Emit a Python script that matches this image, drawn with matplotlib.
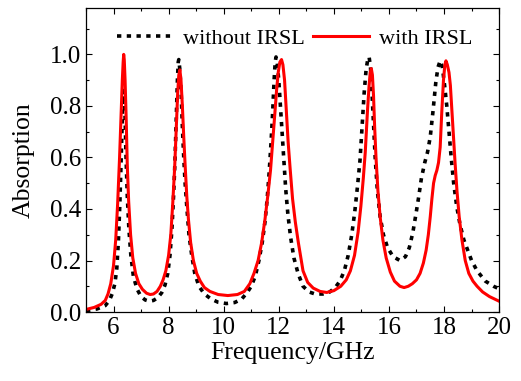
import matplotlib
matplotlib.use('Agg')
import matplotlib.pyplot as plt
from matplotlib.ticker import MultipleLocator

plt.rcParams['font.family'] = ['Liberation Serif', 'DejaVu Serif']

# without IRSL (black dotted)
freq_without = [5.0, 5.4, 5.7, 5.85, 5.95, 6.05, 6.12, 6.18, 6.23, 6.28, 6.32, 6.35, 6.38, 6.41,
                6.45, 6.5, 6.56, 6.63, 6.72, 6.85, 7.0, 7.15, 7.3, 7.45, 7.6, 7.75, 7.87, 7.97,
                8.05, 8.12, 8.18, 8.23, 8.28, 8.32, 8.35, 8.37, 8.41, 8.46, 8.5, 8.55, 8.6, 8.66,
                8.74, 8.84, 8.95, 9.1, 9.3, 9.55, 9.8, 10.1, 10.4, 10.65, 10.85, 11.0, 11.15,
                11.28, 11.4, 11.5, 11.58, 11.65, 11.72, 11.78, 11.83, 11.87, 11.9, 11.94, 12.0,
                12.06, 12.12, 12.18, 12.25, 12.33, 12.43, 12.55, 12.7, 12.88, 13.1, 13.32, 13.6,
                13.85, 14.05, 14.22, 14.38, 14.52, 14.65, 14.76, 14.86, 14.95, 15.03, 15.1, 15.17,
                15.23, 15.28, 15.33, 15.38, 15.43, 15.5, 15.58, 15.68, 15.8, 15.95, 16.15, 16.4,
                16.6, 16.74, 16.87, 16.98, 17.07, 17.18, 17.3, 17.4, 17.5, 17.6, 17.7, 17.78,
                17.86, 17.94, 18.02, 18.1, 18.18, 18.26, 18.35, 18.46, 18.58, 18.72, 18.86, 19.0,
                19.2, 19.5, 19.8, 20.0]
abs_without = [0.005, 0.012, 0.025, 0.045, 0.07, 0.11, 0.17, 0.28, 0.42, 0.6, 0.76, 0.84, 0.86, 0.8,
               0.62, 0.45, 0.32, 0.22, 0.14, 0.09, 0.06, 0.047, 0.042, 0.045, 0.055, 0.075, 0.105, 0.15,
               0.22, 0.32, 0.45, 0.58, 0.76, 0.9, 0.97, 0.98, 0.94, 0.84, 0.72, 0.6, 0.5, 0.41,
               0.3, 0.22, 0.15, 0.1, 0.07, 0.05, 0.038, 0.033, 0.037, 0.05, 0.075, 0.1, 0.14,
               0.2, 0.27, 0.35, 0.44, 0.54, 0.66, 0.78, 0.9, 0.97, 0.99, 0.97, 0.9,
               0.8, 0.7, 0.6, 0.48, 0.38, 0.29, 0.21, 0.15, 0.1, 0.078, 0.07, 0.07,
               0.078, 0.095, 0.12, 0.16, 0.22, 0.3, 0.39, 0.49, 0.59, 0.73, 0.85, 0.94,
               0.98, 0.99, 0.95, 0.86, 0.75, 0.6, 0.47, 0.37, 0.3, 0.25, 0.215, 0.2,
               0.215, 0.25, 0.31, 0.38, 0.44, 0.52, 0.58, 0.62, 0.68, 0.78, 0.89, 0.95,
               0.975, 0.95, 0.88, 0.8, 0.7, 0.6, 0.5, 0.41, 0.34, 0.28, 0.24, 0.2,
               0.16, 0.12, 0.1, 0.09]

# with IRSL (red solid)
freq_with = [5.0, 5.3, 5.55, 5.7, 5.8, 5.9, 6.0, 6.08, 6.15, 6.22, 6.28, 6.32, 6.35, 6.37, 6.39,
             6.42, 6.46, 6.5, 6.55, 6.62, 6.7, 6.8, 6.92, 7.05, 7.2, 7.33, 7.45, 7.58, 7.7, 7.8,
             7.9, 8.0, 8.08, 8.15, 8.22, 8.28, 8.33, 8.37, 8.41, 8.45, 8.5, 8.55, 8.6, 8.66, 8.72,
             8.8, 8.9, 9.02, 9.15, 9.3, 9.5, 9.8, 10.15, 10.5, 10.75, 10.95, 11.1, 11.25, 11.38,
             11.5, 11.6, 11.7, 11.78, 11.85, 11.92, 11.98, 12.04, 12.1, 12.15, 12.21, 12.27,
             12.34, 12.41, 12.5, 12.6, 12.71, 12.88, 13.05, 13.25, 13.5, 13.74, 14.0, 14.25,
             14.45, 14.6, 14.75, 14.88, 14.98, 15.07, 15.14, 15.22, 15.28, 15.32, 15.36, 15.4,
             15.44, 15.48, 15.53, 15.6, 15.68, 15.78, 15.9, 16.05, 16.2, 16.4, 16.55, 16.7,
             16.85, 17.0, 17.13, 17.25, 17.35, 17.43, 17.5, 17.56, 17.62, 17.68, 17.74, 17.8,
             17.86, 17.92, 17.98, 18.03, 18.07, 18.12, 18.18, 18.23, 18.28, 18.34, 18.4, 18.47,
             18.55, 18.65, 18.77, 18.9, 19.05, 19.2, 19.4, 19.65, 20.0]
abs_with = [0.01, 0.018, 0.03, 0.045, 0.07, 0.11, 0.18, 0.28, 0.42, 0.6, 0.78, 0.9, 0.97, 1.0, 0.98,
            0.9, 0.75, 0.57, 0.43, 0.3, 0.21, 0.15, 0.11, 0.088, 0.073, 0.068, 0.07, 0.08, 0.1, 0.125,
            0.16, 0.22, 0.3, 0.42, 0.56, 0.72, 0.85, 0.92, 0.94, 0.9, 0.8, 0.68, 0.57, 0.45, 0.36,
            0.27, 0.2, 0.15, 0.12, 0.095, 0.08, 0.068, 0.064, 0.068, 0.08, 0.11, 0.15, 0.2, 0.27,
            0.36, 0.45, 0.55, 0.66, 0.76, 0.86, 0.93, 0.97, 0.98, 0.96, 0.9, 0.79,
            0.66, 0.56, 0.44, 0.35, 0.27, 0.16, 0.115, 0.093, 0.08, 0.076, 0.083, 0.1,
            0.125, 0.16, 0.22, 0.31, 0.41, 0.52, 0.62, 0.78, 0.88, 0.93, 0.945, 0.92,
            0.84, 0.72, 0.6, 0.47, 0.37, 0.28, 0.21, 0.155, 0.12, 0.1, 0.095, 0.1,
            0.11, 0.125, 0.15, 0.19, 0.24, 0.3, 0.37, 0.44, 0.5, 0.53, 0.55, 0.58,
            0.64, 0.78, 0.9, 0.96, 0.975, 0.96, 0.93, 0.88, 0.79, 0.68, 0.58, 0.47,
            0.37, 0.28, 0.2, 0.15, 0.12, 0.1, 0.078, 0.06, 0.042]

fig = plt.figure(figsize=(5.21, 3.81), dpi=100)
ax = fig.add_axes([0.165, 0.181, 0.793, 0.798])

ax.plot(freq_without, abs_without, color='black', lw=2.6, linestyle=(0, (1.2, 1.5)),
        dash_capstyle='butt', label='without IRSL')
ax.plot(freq_with, abs_with, color='red', lw=2.2, label='with IRSL')

ax.set_xlim(5, 20)
ax.set_ylim(0, 1.18)
ax.xaxis.set_major_locator(MultipleLocator(2))
ax.xaxis.set_minor_locator(MultipleLocator(1))
ax.yaxis.set_minor_locator(MultipleLocator(0.1))
ax.set_yticks([0.0, 0.2, 0.4, 0.6, 0.8, 1.0])
ax.set_yticklabels(['0.0', '0.2', '0.4', '0.6', '0.8', '1.0'])
ax.tick_params(which='both', direction='in', top=True, right=True, labelsize=18)
ax.tick_params(which='major', length=4, width=0.8)
ax.tick_params(which='minor', length=2.2, width=0.8)
for s in ax.spines.values():
    s.set_linewidth(0.9)

ax.set_xlabel('Frequency/GHz', fontsize=18.5, labelpad=2)
ax.set_ylabel('Absorption', fontsize=18.5, labelpad=11)

ax.legend(loc='center', bbox_to_anchor=(0.505, 0.9), ncol=2, frameon=False, fontsize=16,
          handlelength=2.5, handletextpad=0.45, columnspacing=0.4, borderpad=0.2)

fig.savefig('out.png', dpi=100)
